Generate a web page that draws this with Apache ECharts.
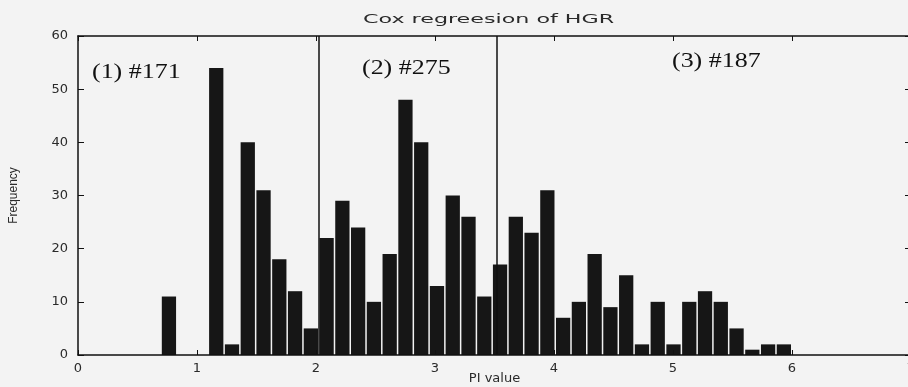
<!DOCTYPE html>
<html>
<head>
<meta charset="utf-8">
<script src="https://cdn.jsdelivr.net/npm/echarts@6/dist/echarts.min.js"></script>
<style>
html,body{margin:0;padding:0;background:#f3f3f3;}
#chart{width:908px;height:387px;}
</style>
</head>
<body>
<div id="chart"></div>
<script>
// Histogram of PI values: 40 equal bins
const binStart = 0.70;
const binWidth = 0.1325;
const counts = [11,0,0,54,2,40,31,18,12,5,
                22,29,24,10,19,48,40,13,30,26,11,
                17,26,23,31,7,10,19,9,15,2,10,2,10,12,10,5,1,2,2];
// Cut-off lines between risk groups
const cutPoints = [2.02, 3.52];
const groupLabels = ['(1) #171', '(2) #275', '(3) #187'];
const xTicks = [0,1,2,3,4,5,6,7];
const yTicks = [0,10,20,30,40,50,60];
const titleText = 'Cox regreesion of HGR';
const xName = 'PI value';
const yName = 'Frequency';

const histData = counts.map((c, i) => [binStart + i * binWidth, binStart + (i + 1) * binWidth, c]);

const chart = echarts.init(document.getElementById('chart'), null, {renderer: 'canvas'});
const axisFont = {fontFamily: 'DejaVu Sans', fontSize: 13, color: '#2a2a2a'};
const option = {
  backgroundColor: '#f3f3f3',
  animation: false,
  grid: {left: 78, right: -3, top: 36, bottom: 32, outerBoundsMode: 'none'},
  xAxis: [{
    type: 'value', min: xTicks[0], max: xTicks[xTicks.length - 1], interval: 1,
    position: 'bottom', z: 5,
    name: xName, nameLocation: 'middle', nameGap: 17, nameMoveOverlap: false,
    nameTextStyle: {fontFamily: 'DejaVu Sans', fontSize: 13, color: '#2a2a2a'},
    axisLine: {onZero: false, lineStyle: {color: '#111', width: 1.5}},
    axisTick: {inside: true, length: 5, lineStyle: {color: '#111'}},
    axisLabel: Object.assign({margin: 7, showMaxLabel: true, hideOverlap: false}, axisFont),
    splitLine: {show: false}
  }, {
    type: 'value', min: xTicks[0], max: xTicks[xTicks.length - 1], interval: 1,
    position: 'top',
    axisLine: {onZero: false, lineStyle: {color: '#111', width: 1.5}},
    axisTick: {inside: true, length: 5, lineStyle: {color: '#111'}},
    axisLabel: {show: false},
    splitLine: {show: false}
  }],
  yAxis: [{
    type: 'value', min: yTicks[0], max: yTicks[yTicks.length - 1], interval: 10,
    position: 'left', z: 5,
    name: yName, nameLocation: 'middle', nameGap: 58, nameRotate: 90,
    nameTextStyle: {fontFamily: 'Liberation Sans Narrow, Liberation Sans', fontSize: 12, color: '#2a2a2a'},
    axisLine: {show: true, onZero: false, lineStyle: {color: '#111', width: 1.5}},
    axisTick: {show: true, inside: true, length: 6, lineStyle: {color: '#111'}},
    axisLabel: Object.assign({margin: 10}, axisFont),
    splitLine: {show: false}
  }, {
    type: 'value', min: yTicks[0], max: yTicks[yTicks.length - 1], interval: 10,
    position: 'right',
    axisLine: {show: true, onZero: false, lineStyle: {color: '#111', width: 1.5}},
    axisTick: {show: true, inside: true, length: 6, lineStyle: {color: '#111'}},
    axisLabel: {show: false},
    splitLine: {show: false}
  }],
  series: [{
    type: 'custom',
    xAxisIndex: 0, yAxisIndex: 0,
    data: histData,
    encode: {x: [0, 1], y: 2},
    renderItem: function (params, api) {
      if (!api.value(2)) return null;
      const p0 = api.coord([api.value(0), 0]);
      const p1 = api.coord([api.value(1), api.value(2)]);
      return {
        type: 'rect',
        shape: {x: p0[0] + 0.5, y: p1[1], width: p1[0] - p0[0] - 1.5, height: p0[1] - p1[1]},
        style: {fill: '#161616'}
      };
    },
    markLine: {
      silent: true,
      symbol: ['none', 'none'],
      label: {show: false},
      lineStyle: {color: '#111', width: 1.5, type: 'solid'},
      data: cutPoints.map(v => ({xAxis: v}))
    }
  }],
  graphic: [
    {type: 'text', x: 363, y: 14, scaleX: 1.85, style: {text: titleText, font: '12px DejaVu Sans', fill: '#2a2a2a'}},
    {type: 'text', x: 92, y: 61, scaleX: 1.18, style: {text: groupLabels[0], font: '22px Liberation Serif', fill: '#111'}},
    {type: 'text', x: 362, y: 57, scaleX: 1.18, style: {text: groupLabels[1], font: '22px Liberation Serif', fill: '#111'}},
    {type: 'text', x: 672, y: 50, scaleX: 1.18, style: {text: groupLabels[2], font: '22px Liberation Serif', fill: '#111'}}
  ]
};
chart.setOption(option);
</script>
</body>
</html>
